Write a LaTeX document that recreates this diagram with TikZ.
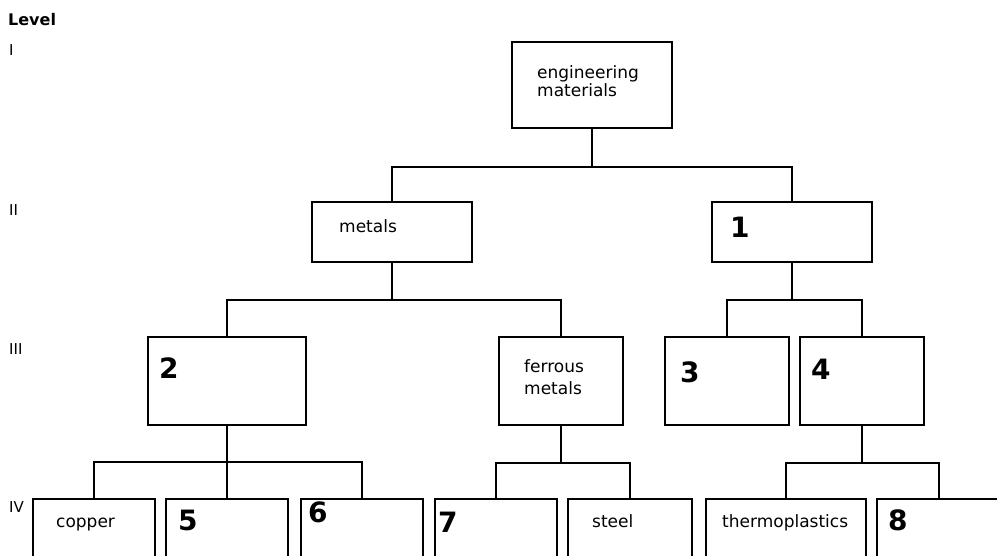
\documentclass[tikz,border=0pt]{standalone}
\usepackage{fontspec}
\setmainfont{DejaVu Sans}
\begin{document}
\begin{tikzpicture}[x=1pt,y=-1pt,
  box/.style={draw, rectangle, inner sep=0pt, line width=2pt},
  lbl/.style={anchor=base west, inner sep=0pt, font=\fontsize{17}{19}\selectfont},
  num/.style={anchor=base west, inner sep=0pt, font=\fontsize{28}{28}\selectfont\bfseries},
  lvl/.style={anchor=base west, inner sep=0pt, font=\fontsize{15}{15}\selectfont},
  link/.style={draw, line width=2pt}]
\useasboundingbox (0,0) rectangle (997,555);
\fill[white] (0,0) rectangle (997,555);
\clip (0,0) rectangle (997,555);

% level labels
\node[lvl, font=\fontsize{16}{16}\selectfont\bfseries] (lvlhead) at (8,25) {Level};
\node[lvl] (lvlI) at (9,55) {I};
\node[lvl] (lvlII) at (9,215) {II};
\node[lvl] (lvlIII) at (9,354) {III};
\node[lvl] (lvlIV) at (9,512) {IV};

% level I
\node[box, minimum width=160pt, minimum height=86pt] (top) at (592,85) {};
% level II
\node[box, minimum width=160pt, minimum height=60pt] (metals) at (392,232) {};
\node[box, minimum width=160pt, minimum height=60pt] (one) at (792,232) {};
% level III
\node[box, minimum width=158pt, minimum height=88pt] (two) at (227,381) {};
\node[box, minimum width=124pt, minimum height=88pt] (ferrous) at (561,381) {};
\node[box, minimum width=124pt, minimum height=88pt] (three) at (727,381) {};
\node[box, minimum width=124pt, minimum height=88pt] (four) at (862,381) {};
% level IV
\node[box, minimum width=122pt, minimum height=80pt] (copper) at (94,539) {};
\node[box, minimum width=122pt, minimum height=80pt] (five) at (227,539) {};
\node[box, minimum width=122pt, minimum height=80pt] (six) at (362,539) {};
\node[box, minimum width=122pt, minimum height=80pt] (seven) at (496,539) {};
\node[box, minimum width=124pt, minimum height=80pt] (steel) at (630,539) {};
\node[box, minimum width=160pt, minimum height=80pt] (thermo) at (786,539) {};
\node[box, minimum width=124pt, minimum height=80pt] (eight) at (939,539) {};

% junctions
\coordinate (j1) at (592,167);
\coordinate (j2) at (392,300);
\coordinate (j3) at (792,300);
\coordinate (j4) at (227,462);
\coordinate (j5) at (561,463);
\coordinate (j6) at (862,463);

\path[link] (top.south) -- (j1);
\path[link] (j1) -| (metals.north);
\path[link] (j1) -| (one.north);
\path[link] (metals.south) -- (j2);
\path[link] (j2) -| (two.north);
\path[link] (j2) -| (ferrous.north);
\path[link] (one.south) -- (j3);
\path[link] (j3) -| (three.north);
\path[link] (j3) -| (four.north);
\path[link] (two.south) -- (j4);
\path[link] (j4) -| (copper.north);
\path[link] (j4) -| (six.north);
\path[link] (j4) -- (five.north);
\path[link] (ferrous.south) -- (j5);
\path[link] (j5) -| (seven.north);
\path[link] (j5) -| (steel.north);
\path[link] (four.south) -- (j6);
\path[link] (j6) -| (thermo.north);
\path[link] (j6) -| (eight.north);

% texts
\node[lbl] (tEng) at (537,78) {engineering};
\node[lbl] (tMat) at (537,96) {materials};
\node[lbl] (tMet) at (339,232) {metals};
\node[lbl] (tFer) at (524,372) {ferrous};
\node[lbl] (tFerM) at (524,394) {metals};
\node[lbl] (tCop) at (56,527) {copper};
\node[lbl] (tSteel) at (592,527) {steel};
\node[lbl] (tTherm) at (722,527) {thermoplastics};

% handwritten numbers
\node[num] (n1) at (730,237) {1};
\node[num] (n2) at (159,378) {2};
\node[num] (n3) at (680,382) {3};
\node[num] (n4) at (811,379) {4};
\node[num] (n5) at (178,530) {5};
\node[num] (n6) at (308,522) {6};
\node[num] (n7) at (438,532) {7};
\node[num] (n8) at (888,530) {8};
\end{tikzpicture}
\end{document}
